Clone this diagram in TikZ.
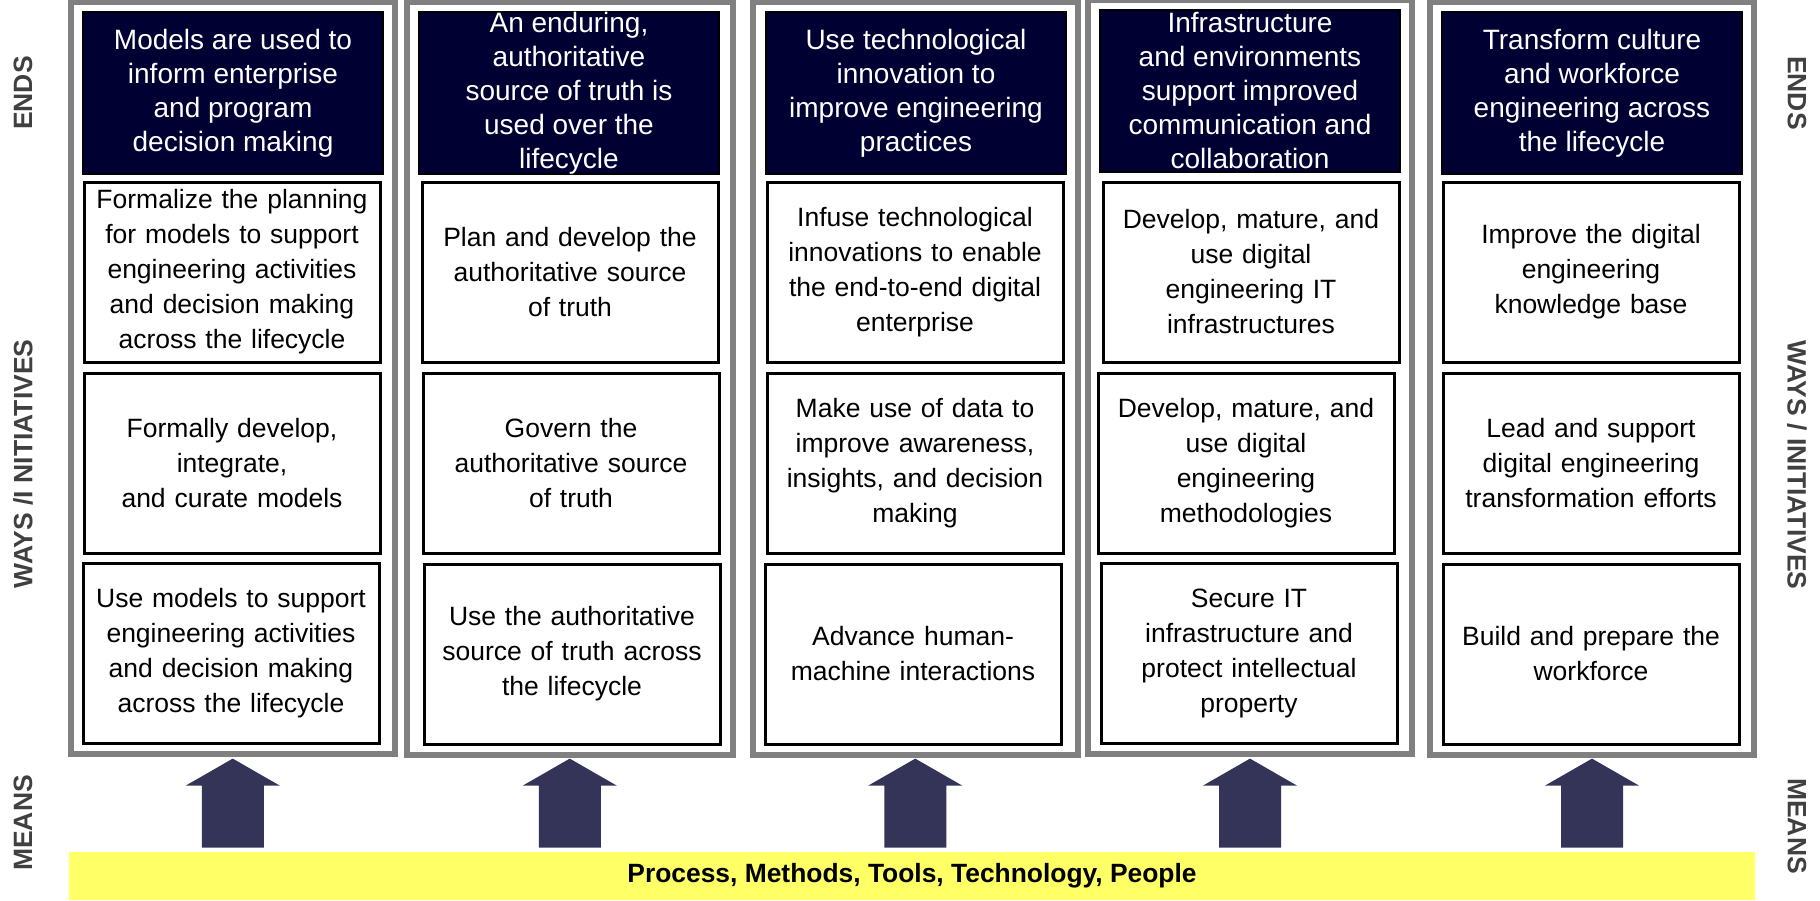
\documentclass[tikz,border=0pt]{standalone}
\usepackage{fontspec}
\setmainfont{Liberation Sans}
\usetikzlibrary{fit,calc}
\definecolor{endsnavy}{HTML}{000033}
\definecolor{meansblue}{RGB}{52,52,88}
\definecolor{meansyellow}{HTML}{FFFF66}
\definecolor{framegray}{HTML}{808080}
\definecolor{labelgray}{HTML}{404040}

\begin{document}
\begin{tikzpicture}[x=0.5pt,y=-0.5pt,
    endsbox/.style={draw=black,line width=1pt,fill=endsnavy,minimum width=150pt,minimum height=81pt,inner sep=0pt},
    endstext/.style={text=white,align=center,inner sep=0pt,font=\fontsize{14}{17}\selectfont},
    waybox/.style={draw=black,line width=1.5pt,fill=white,minimum width=148pt,minimum height=90pt,text width=146pt,inner sep=0pt,align=center,font=\fontsize{13.25}{17.5}\selectfont},
    colframe/.style={draw=framegray,line width=3pt,inner xsep=5.5pt,inner ysep=4.75pt},
    meansarrow/.style={fill=meansblue},
    meansbar/.style={fill=meansyellow,minimum width=843pt,minimum height=24pt,inner sep=0pt,font=\bfseries\fontsize{13.2}{16}\selectfont},
    sidelabel/.style={text=labelgray,inner sep=0pt,font=\bfseries\fontsize{13.25}{16}\selectfont}]
    \useasboundingbox (0,0) rectangle (1820,900);

    % side labels
    \node[sidelabel,rotate=90] (endsl) at (23,93) {ENDS};
    \node[sidelabel,rotate=90] (waysl) at (23,464) {WAYS /I NITIATIVES};
    \node[sidelabel,rotate=90] (meansl) at (23,823) {MEANS};
    \node[sidelabel,rotate=-90] (endsr) at (1797,93) {ENDS};
    \node[sidelabel,rotate=-90] (waysr) at (1797,465) {WAYS / INITIATIVES};
    \node[sidelabel,rotate=-90] (meansr) at (1797,826) {MEANS};

    % column 1
    \node[endsbox,label={[endstext]center:{Models are used to\\inform enterprise\\and program\\decision making}}] (e1) at (233,93) {};
    \node[waybox] (w11) at (232,272) {Formalize the planning\\for models to support\\engineering activities\\and decision making\\across the lifecycle};
    \node[waybox] (w12) at (232,463) {Formally develop,\\integrate,\\and curate models};
    \node[waybox] (w13) at (231,653) {Use models to support\\engineering activities\\and decision making\\across the lifecycle};

    % column 2
    \node[endsbox,label={[endstext]center:{An enduring,\\authoritative\\source of truth is\\used over the\\lifecycle}}] (e2) at (569,93) {};
    \node[waybox] (w21) at (570,272) {Plan and develop the\\authoritative source\\of truth};
    \node[waybox] (w22) at (571,463) {Govern the\\authoritative source\\of truth};
    \node[waybox] (w23) at (572,654) {Use the authoritative\\source of truth across\\the lifecycle};

    % column 3
    \node[endsbox,label={[endstext]center:{Use technological\\innovation to\\improve engineering\\practices}}] (e3) at (916,93) {};
    \node[waybox] (w31) at (915,272) {Infuse technological\\innovations to enable\\the end-to-end digital\\enterprise};
    \node[waybox] (w32) at (915,463) {Make use of data to\\improve awareness,\\insights, and decision\\making};
    \node[waybox] (w33) at (913,654) {Advance human-\\machine interactions};

    % column 4
    \node[endsbox,label={[endstext]center:{Infrastructure\\and environments\\support improved\\communication and\\collaboration}}] (e4) at (1250,91) {};
    \node[waybox] (w41) at (1251,272) {Develop, mature, and\\use digital\\engineering IT\\infrastructures};
    \node[waybox] (w42) at (1246,463) {Develop, mature, and\\use digital\\engineering\\methodologies};
    \node[waybox] (w43) at (1249,653) {Secure IT\\infrastructure and\\protect intellectual\\property};

    % column 5
    \node[endsbox,label={[endstext]center:{Transform culture\\and workforce\\engineering across\\the lifecycle}}] (e5) at (1592,93) {};
    \node[waybox] (w51) at (1591,272) {Improve the digital\\engineering\\knowledge base};
    \node[waybox] (w52) at (1591,463) {Lead and support\\digital engineering\\transformation efforts};
    \node[waybox] (w53) at (1591,654) {Build and prepare the\\workforce};

    % frames
    \node[colframe,fit=(e1)(w11)(w13)] (col1) {};
    \node[colframe,fit=(e2)(w21)(w23)] (col2) {};
    \node[colframe,fit=(e3)(w31)(w33)] (col3) {};
    \node[colframe,fit=(e4)(w41)(w43)] (col4) {};
    \node[colframe,fit=(e5)(w51)(w53)] (col5) {};

    % means
    \node[meansbar] (means) at (912,876) {Process, Methods, Tools, Technology, People};

    \fill[meansarrow] ($(col1.south |- means.north)+(-31,-4)$) -- ++(62,0) -- ++(0,-62) -- ++(16,0) -- ++(-47,-27) -- ++(-47,27) -- ++(16,0) -- cycle;
    \fill[meansarrow] ($(col2.south |- means.north)+(-31,-4)$) -- ++(62,0) -- ++(0,-62) -- ++(16,0) -- ++(-47,-27) -- ++(-47,27) -- ++(16,0) -- cycle;
    \fill[meansarrow] ($(col3.south |- means.north)+(-31,-4)$) -- ++(62,0) -- ++(0,-62) -- ++(16,0) -- ++(-47,-27) -- ++(-47,27) -- ++(16,0) -- cycle;
    \fill[meansarrow] ($(col4.south |- means.north)+(-31,-4)$) -- ++(62,0) -- ++(0,-62) -- ++(16,0) -- ++(-47,-27) -- ++(-47,27) -- ++(16,0) -- cycle;
    \fill[meansarrow] ($(col5.south |- means.north)+(-31,-4)$) -- ++(62,0) -- ++(0,-62) -- ++(16,0) -- ++(-47,-27) -- ++(-47,27) -- ++(16,0) -- cycle;

\end{tikzpicture}
\end{document}
